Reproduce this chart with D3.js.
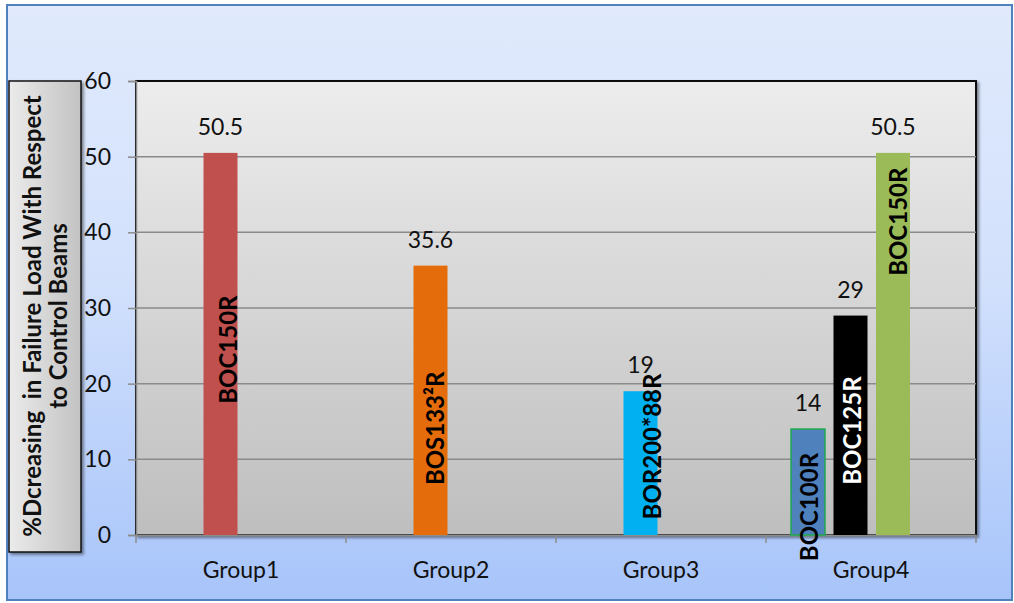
<!DOCTYPE html>
<html>
<head>
<meta charset="utf-8">
<script src="https://cdn.jsdelivr.net/npm/d3@7.9.0/dist/d3.min.js"></script>
<style>
  html, body { margin: 0; padding: 0; background: #fff; }
  svg { display: block; font-family: Lato, 'Open Sans', sans-serif; }
</style>
</head>
<body>
<svg id="chart" width="1014" height="603"></svg>
<script>
// chart data
const groups = ['Group1', 'Group2', 'Group3', 'Group4'];
const barNames = ['BOC150R', 'BOS133²R', 'BOR200*88R', 'BOC100R', 'BOC125R', 'BOC150R'];
const barGroup = ['Group1', 'Group2', 'Group3', 'Group4', 'Group4', 'Group4'];
const barSlot = [1, 1, 1, 0, 1, 2];
const barValues = [50.5, 35.6, 19, 14, 29, 50.5];
// where the rotated name label sits, in value units
const nameAt = [24.5, 14.1, 11.7, 3.7, 13.8, 41.4];
const yTicks = [0, 10, 20, 30, 40, 50, 60];

const barColors = ['#c0504d', '#e46c0a', '#00b0f0', '#4f81bd', '#000000', '#9bbb59'];
const nameColors = ['#000', '#000', '#000', '#000', '#fff', '#000'];
const nameShift = [8, 5, 12, 1, 2, 5];

const svg = d3.select('#chart');
const defs = svg.append('defs');

const bgGrad = defs.append('linearGradient').attr('id', 'bg').attr('x1', 0).attr('y1', 0).attr('x2', 0).attr('y2', 1);
bgGrad.append('stop').attr('offset', '0%').attr('stop-color', '#e0eafc');
bgGrad.append('stop').attr('offset', '45%').attr('stop-color', '#d3e1fc');
bgGrad.append('stop').attr('offset', '100%').attr('stop-color', '#a7c4fa');

const plotGrad = defs.append('linearGradient').attr('id', 'plotbg').attr('x1', 0).attr('y1', 0).attr('x2', 0).attr('y2', 1);
plotGrad.append('stop').attr('offset', '0%').attr('stop-color', '#ededed');
plotGrad.append('stop').attr('offset', '100%').attr('stop-color', '#bebebe');

const boxGrad = defs.append('linearGradient').attr('id', 'boxbg').attr('x1', 0).attr('y1', 0).attr('x2', 1).attr('y2', 0);
boxGrad.append('stop').attr('offset', '0%').attr('stop-color', '#ebebeb');
boxGrad.append('stop').attr('offset', '100%').attr('stop-color', '#c2c2c2');

const shadow = defs.append('filter').attr('id', 'shadow').attr('x', '-10%').attr('y', '-10%').attr('width', '130%').attr('height', '130%');
shadow.append('feDropShadow').attr('dx', 2).attr('dy', 2).attr('stdDeviation', 1.5).attr('flood-color', '#000').attr('flood-opacity', 0.45);

// outer chart area
svg.append('rect')
  .attr('x', 7).attr('y', 5).attr('width', 1005).attr('height', 595)
  .attr('fill', 'url(#bg)')
  .attr('stroke', '#4f81bd').attr('stroke-width', 2);

const plotLeft = 136, plotRight = 976, plotTop = 81, plotBottom = 535;

const x0 = d3.scaleBand().domain(groups).range([plotLeft, plotRight]).padding(0);
const x1 = d3.scaleBand().domain([0, 1, 2, 3])
  .range([25, 25 + 42.5 * 3.8])
  .paddingInner(0.2).paddingOuter(0);
const y = d3.scaleLinear().domain([0, 60]).range([plotBottom, plotTop]);

// plot area
svg.append('rect')
  .attr('x', plotLeft).attr('y', plotTop).attr('width', plotRight - plotLeft).attr('height', plotBottom - plotTop)
  .attr('fill', 'url(#plotbg)')
  .attr('stroke', '#111').attr('stroke-width', 2)
  .attr('filter', 'url(#shadow)');

// gridlines
svg.append('g')
  .selectAll('line')
  .data(yTicks.filter((d) => d > 0 && d < 60))
  .join('line')
  .attr('x1', plotLeft).attr('x2', plotRight)
  .attr('y1', (d) => y(d)).attr('y2', (d) => y(d))
  .attr('stroke', '#8a8a8a').attr('stroke-width', 1.5);

// y axis
const yAxis = svg.append('g')
  .attr('transform', `translate(${plotLeft},0)`)
  .call(d3.axisLeft(y).tickValues(yTicks).tickSize(8).tickPadding(17));
yAxis.select('.domain').attr('stroke', '#8c8c8c').attr('stroke-width', 1.5);
yAxis.selectAll('.tick line').attr('stroke', '#8c8c8c').attr('stroke-width', 1.5);
yAxis.selectAll('.tick text').attr('font-size', 23).attr('fill', '#111').attr('font-family', 'Lato, sans-serif');

// x axis
const xAxis = svg.append('g')
  .attr('transform', `translate(0,${plotBottom})`)
  .call(d3.axisBottom(x0).tickSize(0).tickPadding(27));
xAxis.select('.domain').attr('stroke', '#8c8c8c').attr('stroke-width', 2);
xAxis.selectAll('.tick text').attr('font-size', 23).attr('fill', '#111').attr('font-family', 'Lato, sans-serif');
// category separators
svg.append('g')
  .selectAll('line')
  .data(groups.concat(['end']))
  .join('line')
  .attr('x1', (d, i) => plotLeft + i * x0.bandwidth())
  .attr('x2', (d, i) => plotLeft + i * x0.bandwidth())
  .attr('y1', plotBottom).attr('y2', plotBottom + 8)
  .attr('stroke', '#8c8c8c').attr('stroke-width', 1.5);

const bars = barValues.map((v, i) => ({
  name: barNames[i], group: barGroup[i], slot: barSlot[i], value: v, at: nameAt[i],
  color: barColors[i], textColor: nameColors[i], shift: nameShift[i]
}));
const bx = (d) => x0(d.group) + x1(d.slot);

svg.append('g')
  .selectAll('rect')
  .data(bars)
  .join('rect')
  .attr('x', bx)
  .attr('y', (d) => y(d.value))
  .attr('width', x1.bandwidth())
  .attr('height', (d) => y(0) - y(d.value))
  .attr('fill', (d) => d.color)
  .attr('stroke', (d, i) => (i === 3 ? '#1fa84f' : 'none'))
  .attr('stroke-width', 1.5);

// value labels
svg.append('g')
  .selectAll('text')
  .data(bars)
  .join('text')
  .attr('x', (d) => bx(d) + x1.bandwidth() / 2)
  .attr('y', (d) => y(d.value) - 18)
  .attr('text-anchor', 'middle')
  .attr('font-size', 23)
  .attr('fill', '#111')
  .text((d) => d.value);

// rotated bar names
svg.append('g')
  .selectAll('text')
  .data(bars)
  .join('text')
  .attr('transform', (d) => `translate(${bx(d) + x1.bandwidth() / 2 + d.shift},${y(d.at)}) rotate(-90)`)
  .attr('text-anchor', 'middle')
  .attr('dy', '0.36em')
  .attr('font-size', 24)
  .attr('font-weight', 'bold')
  .attr('fill', (d) => d.textColor)
  .text((d) => d.name);

// y axis title box
svg.append('rect')
  .attr('x', 9).attr('y', 81).attr('width', 72).attr('height', 471)
  .attr('fill', 'url(#boxbg)')
  .attr('stroke', '#111').attr('stroke-width', 1.5)
  .attr('filter', 'url(#shadow)');

const title = svg.append('text')
  .attr('transform', 'translate(45,316) rotate(-90)')
  .attr('text-anchor', 'middle')
  .attr('font-size', 24)
  .attr('font-weight', 'bold')
  .attr('fill', '#111');
title.append('tspan').attr('x', 0).attr('y', -4).attr('xml:space', 'preserve').text('%Dcreasing  in Failure Load With Respect');
title.append('tspan').attr('x', 0).attr('y', 22).text('to Control Beams');
</script>
</body>
</html>
